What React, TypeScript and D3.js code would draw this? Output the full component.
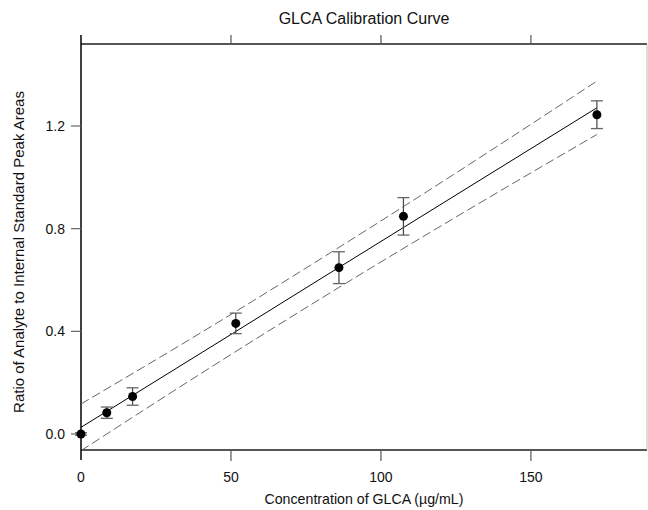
import * as d3 from 'd3';

// measured standards
const conc = [0, 8.6, 17.2, 51.6, 86, 107.5, 172];
const ratio = [0.0, 0.083, 0.146, 0.431, 0.648, 0.848, 1.244];
const sd = [0.005, 0.022, 0.034, 0.04, 0.062, 0.073, 0.054];

// fitted line and prediction band
const fitX = [0, 43, 86, 129, 172];
const fitY = [0.026, 0.337, 0.649, 0.96, 1.271];
const bandUpper = [0.117, 0.416, 0.727, 1.047, 1.375];
const bandLower = [-0.065, 0.258, 0.571, 0.873, 1.167];

const xTicks = [0, 50, 100, 150];
const yTicks = [0, 0.4, 0.8, 1.2];

const W = 648, H = 510;
const m = { left: 81, right: 647, top: 44, bottom: 450 };
const font = '"Liberation Sans", Arial, sans-serif';

export default function App() {
    const x = d3.scaleLinear().domain([0, 188.7]).range([m.left, m.right]);
    const y = d3.scaleLinear().domain([0, 1.2]).range([434, 126]);

    const line = (vals: number[]) => d3.line<number>()
        .x((_, i) => x(fitX[i]))
        .y(d => y(d))
        .curve(d3.curveMonotoneX)(vals) ?? '';

    return <svg width={W} height={H} style={{ position: 'absolute', left: 0, top: 0, background: '#fff' }}
        fontFamily={font}>
        <defs>
            <clipPath id="plot-clip">
                <rect x={m.left} y={m.top} width={m.right - m.left} height={m.bottom - m.top} />
            </clipPath>
        </defs>

        <text x={(m.left + m.right) / 2} y={24} textAnchor="middle" fontSize={16} fill="#111">GLCA Calibration Curve</text>

        {/* frame */}
        <line x1={m.left} x2={m.right} y1={m.top} y2={m.top} stroke="#555" strokeWidth={2} />
        <line x1={m.left} x2={m.right} y1={m.bottom} y2={m.bottom} stroke="#555" strokeWidth={2} />
        <line x1={m.right} x2={m.right} y1={m.top} y2={m.bottom} stroke="#bbb" strokeWidth={1} />
        <line x1={m.left} x2={m.left} y1={35} y2={460} stroke="#000" strokeWidth={1.5} />

        {xTicks.filter(t => t > 0).map(t => <g key={'xt' + t}>
            <line x1={x(t)} x2={x(t)} y1={m.top} y2={35} stroke="#555" strokeWidth={1.2} />
            <line x1={x(t)} x2={x(t)} y1={m.bottom} y2={461} stroke="#555" strokeWidth={1.2} />
        </g>)}
        {xTicks.map(t => <text key={'xl' + t} x={x(t)} y={482} textAnchor="middle" fontSize={14} fill="#111">{t}</text>)}

        {yTicks.map(t => <g key={'yt' + t}>
            <line x1={71} x2={m.left} y1={y(t)} y2={y(t)} stroke="#666" strokeWidth={1.2} />
            <text x={65} y={y(t)} dy="0.35em" textAnchor="end" fontSize={14} fill="#111">{t.toFixed(1)}</text>
        </g>)}

        <text x={m.left + (m.right - m.left) / 2} y={504} textAnchor="middle" fontSize={14.2} fill="#111">Concentration of GLCA (µg/mL)</text>
        <text transform={`translate(24, 252) rotate(-90)`} textAnchor="middle" fontSize={15} fill="#111">Ratio of Analyte to Internal Standard Peak Areas</text>

        <g clipPath="url(#plot-clip)">
            <path d={line(bandUpper)} fill="none" stroke="#666" strokeWidth={1} strokeDasharray="9,4" />
            <path d={line(bandLower)} fill="none" stroke="#666" strokeWidth={1} strokeDasharray="9,4" />
            <path d={line(fitY)} fill="none" stroke="#000" strokeWidth={1} />
        </g>

        {conc.map((c, i) => <g key={'p' + i}>
            <line x1={x(c)} x2={x(c)} y1={y(ratio[i] + sd[i])} y2={y(ratio[i] - sd[i])} stroke="#444" strokeWidth={1.2} />
            <line x1={x(c) - 6} x2={x(c) + 6} y1={y(ratio[i] + sd[i])} y2={y(ratio[i] + sd[i])} stroke="#666" strokeWidth={1.3} />
            <line x1={x(c) - 6} x2={x(c) + 6} y1={y(ratio[i] - sd[i])} y2={y(ratio[i] - sd[i])} stroke="#666" strokeWidth={1.3} />
            <circle cx={x(c)} cy={y(ratio[i])} r={4.5} fill="#000" />
        </g>)}
    </svg>;
}
